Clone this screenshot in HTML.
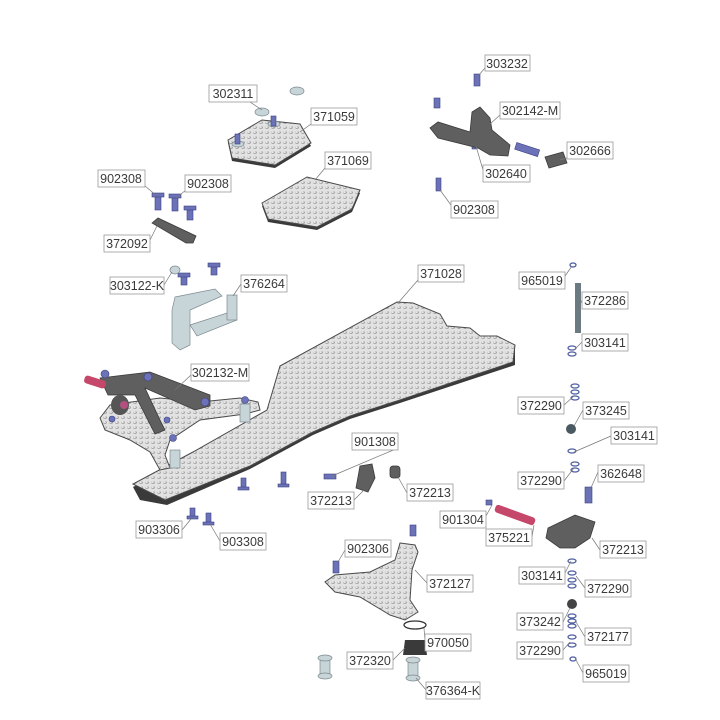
<!DOCTYPE html>
<html><head><meta charset="utf-8"><style>
html,body{margin:0;padding:0;background:#fff;}
svg{display:block}
.l rect{fill:#fff;stroke:#9a9a9a;stroke-width:0.8}
.l text{font-family:"Liberation Sans",sans-serif;font-size:12.5px;fill:#3a3a3a;text-anchor:middle}
.ld{stroke:#777;stroke-width:0.7;fill:none}
.cf{fill:url(#cb);stroke:#4a4a4a;stroke-width:1}
.sc{fill:#6c72b8;stroke:#3c4182;stroke-width:0.6}
.dk{fill:#5f5f5f;stroke:#3a3a3a;stroke-width:0.8}
.al{fill:#c7d4d8;stroke:#7d8a90;stroke-width:0.7}
</style></head><body>
<svg width="720" height="720" viewBox="0 0 720 720" xmlns="http://www.w3.org/2000/svg">
<defs>
<pattern id="cb" width="6" height="5" patternUnits="userSpaceOnUse">
<rect width="6" height="5" fill="#e2e2e2"/>
<ellipse cx="3" cy="2.5" rx="1.9" ry="1.4" fill="#9e9e9e"/>
<ellipse cx="2.6" cy="2.1" rx="1.2" ry="0.8" fill="#f6f6f6"/>
</pattern>
</defs>

<!-- main chassis 371028 -->
<polygon points="133,487 140,500 167,505 250,469 313,435 350,419 400,403 515,365 515,348 505,344 497,338 480,338 470,332 447,330 440,318 413,306 397,305 280,370 267,414 193,455" fill="#3a3a3a"/>
<polygon class="cf" points="133,484 165,500 250,466 313,432 350,416 400,400 513,362 515,345 497,336 480,336 470,328 447,326 440,314 413,303 397,302 280,366 267,410 193,452"/>
<!-- front sub-plate -->
<polygon class="cf" points="100,418 110,405 160,398 200,402 240,398 258,402 260,410 245,414 200,420 170,440 165,455 170,468 160,470 150,452 130,440 105,430"/>
<rect class="al" x="170" y="450" width="10" height="18"/>
<rect class="al" x="240" y="404" width="10" height="18"/>
<!-- steering arm -->
<path class="dk" d="M100,378 L150,372 L210,395 L210,406 L195,410 L145,388 L160,420 L165,430 L155,434 L135,395 L108,395 Z"/>
<rect x="84" y="378" width="22" height="8" rx="3" fill="#c5476a" transform="rotate(18 95 382)"/>
<ellipse cx="120" cy="405" rx="9" ry="10" fill="#555"/>
<circle cx="124" cy="405" r="4" fill="#b45080"/>
<circle class="sc" cx="105" cy="374" r="4"/><circle class="sc" cx="148" cy="377" r="4"/>
<circle class="sc" cx="205" cy="402" r="4"/><circle class="sc" cx="245" cy="400" r="3.5"/>
<circle class="sc" cx="173" cy="438" r="3.5"/><circle class="sc" cx="167" cy="420" r="3"/>
<circle class="sc" cx="112" cy="419" r="3"/>

<!-- top plates -->
<polygon points="228,143 262,123 300,127 311,146 275,168 232,161" fill="#3a3a3a"/>
<polygon class="cf" points="228,140 262,120 300,124 311,143 275,165 232,158"/>
<polygon points="262,206 307,180 360,193 352,212 317,230 268,222" fill="#3a3a3a"/>
<polygon class="cf" points="262,203 307,177 360,190 352,209 317,227 268,219"/>
<ellipse class="al" cx="262" cy="112" rx="7" ry="4"/><ellipse class="al" cx="297" cy="91" rx="7" ry="4"/>
<ellipse class="al" cx="238" cy="144" rx="6" ry="3"/><ellipse class="al" cx="274" cy="124" rx="6" ry="3"/>
<rect class="sc" x="235" y="134" width="5" height="10"/><rect class="sc" x="271" y="116" width="5" height="10"/>
<polygon class="dk" points="152,223 158,218 196,236 193,243 186,243" fill="#888"/>
<g class="sc"><rect x="155" y="195" width="6" height="15"/><rect x="152" y="193" width="12" height="4"/>
<rect x="172" y="196" width="6" height="15"/><rect x="169" y="194" width="12" height="4"/>
<rect x="187" y="208" width="6" height="12"/><rect x="184" y="206" width="12" height="4"/>
<rect x="181" y="275" width="6" height="10"/><rect x="178" y="273" width="12" height="4"/>
<rect x="211" y="265" width="6" height="10"/><rect x="208" y="263" width="12" height="4"/>
<rect x="434" y="98" width="6" height="10"/><rect x="474" y="74" width="6" height="12"/>
<rect x="472" y="138" width="5" height="11"/><rect x="436" y="178" width="5" height="13"/>
<rect x="241" y="478" width="5" height="10"/><rect x="238" y="487" width="11" height="3"/>
<rect x="281" y="472" width="5" height="13"/><rect x="278" y="484" width="11" height="3"/>
<rect x="190" y="508" width="5" height="9"/><rect x="187" y="516" width="11" height="3"/>
<rect x="206" y="513" width="5" height="11"/><rect x="203" y="522" width="11" height="3"/>
<rect x="324" y="474" width="12" height="5"/>
<rect x="410" y="525" width="6" height="11"/><rect x="333" y="561" width="6" height="12"/>
<rect x="585" y="487" width="7" height="16"/><rect x="486" y="500" width="6" height="5"/>
</g>
<!-- 376264 bracket -->
<polygon class="al" points="175,297 215,289 222,296 190,310 190,345 180,350 172,343 172,310"/>
<polygon class="al" points="190,325 230,312 237,320 197,336"/>
<rect class="al" x="227" y="295" width="10" height="25"/>
<ellipse class="al" cx="175" cy="270" rx="5" ry="4"/>
<!-- 302142-M -->
<path class="dk" d="M430,128 L438,122 L470,132 L472,112 L480,107 L490,118 L492,130 L510,145 L508,156 L490,155 L478,148 L438,138 Z"/>
<rect class="sc" x="515" y="146" width="24" height="7" transform="rotate(18 527 150)"/>
<polygon class="dk" points="545,157 563,152 567,163 549,168"/>
<rect x="575" y="283" width="6" height="50" fill="#6a7a80"/>
<g fill="none" stroke="#4f5fa0" stroke-width="1.3">
<ellipse cx="573" cy="265" rx="3" ry="2"/>
<ellipse cx="572" cy="348" rx="4" ry="2"/><ellipse cx="572" cy="354" rx="4" ry="2"/>
<ellipse cx="575" cy="386" rx="4" ry="2"/><ellipse cx="575" cy="392" rx="4" ry="2"/><ellipse cx="575" cy="398" rx="4" ry="2"/>
<ellipse cx="572" cy="451" rx="4" ry="2"/><ellipse cx="575" cy="464" rx="4" ry="2"/><ellipse cx="575" cy="470" rx="4" ry="2"/>
<ellipse cx="572" cy="561" rx="4" ry="2"/><ellipse cx="572" cy="573" rx="4" ry="2"/><ellipse cx="572" cy="580" rx="4" ry="2"/><ellipse cx="572" cy="586" rx="4" ry="2"/>
<ellipse cx="572" cy="616" rx="4" ry="2"/><ellipse cx="572" cy="621" rx="4" ry="2"/><ellipse cx="572" cy="626" rx="4" ry="2"/>
<ellipse cx="572" cy="637" rx="4" ry="2"/><ellipse cx="572" cy="645" rx="4" ry="2"/>
<ellipse cx="573" cy="659" rx="3" ry="2"/>
<ellipse cx="415" cy="625" rx="11" ry="4" stroke="#333"/>
</g>
<circle cx="571" cy="429" r="5" fill="#4a5a60"/><circle cx="572" cy="604" r="5" fill="#444"/>
<polygon class="dk" points="360,466 372,464 375,478 368,492 356,488"/>
<rect class="dk" x="390" y="466" width="10" height="12" rx="3"/>
<path class="dk" d="M548,528 L575,515 L595,522 L590,538 L575,548 L560,548 L546,538 Z"/>
<rect x="494" y="511" width="42" height="8" rx="3" fill="#c5476a" transform="rotate(20 515 515)"/>
<polygon class="cf" points="400,543 415,545 418,552 412,570 410,600 418,612 405,620 390,615 360,597 335,592 325,582 335,575 370,572 395,560 398,550"/>
<path d="M405,640 L425,640 L427,655 L403,655 Z" fill="#3a3a3a"/>
<rect class="al" x="320" y="658" width="10" height="18"/><ellipse class="al" cx="325" cy="658" rx="7" ry="3"/><ellipse class="al" cx="325" cy="676" rx="7" ry="3"/>
<rect class="al" x="408" y="660" width="10" height="18"/><ellipse class="al" cx="413" cy="660" rx="7" ry="3"/><ellipse class="al" cx="413" cy="678" rx="7" ry="3"/>

<g class="ld">
<path d="M250,102 L262,110"/><path d="M311,124 L300,132"/><path d="M485,68 L478,76"/>
<path d="M500,115 L490,124"/><path d="M567,158 L560,160"/><path d="M483,170 L476,146"/>
<path d="M451,205 L440,190"/><path d="M325,168 L315,180"/><path d="M145,186 L157,196"/>
<path d="M186,190 L176,198"/><path d="M150,240 L157,226"/><path d="M164,285 L172,272"/>
<path d="M241,284 L233,296"/><path d="M418,280 L398,303"/><path d="M565,276 L572,266"/>
<path d="M582,300 L578,310"/><path d="M582,342 L574,350"/><path d="M191,375 L175,390"/>
<path d="M564,405 L574,396"/><path d="M583,410 L574,426"/><path d="M611,436 L574,452"/>
<path d="M398,448 L332,476"/><path d="M564,481 L574,468"/><path d="M598,472 L590,490"/>
<path d="M354,500 L364,490"/><path d="M407,493 L398,477"/><path d="M486,516 L492,505"/>
<path d="M532,537 L534,525"/><path d="M182,530 L191,519"/><path d="M220,541 L210,524"/>
<path d="M600,550 L592,538"/><path d="M345,550 L338,562"/><path d="M427,583 L415,570"/>
<path d="M565,573 L571,561"/><path d="M585,588 L576,576"/><path d="M563,622 L570,608"/>
<path d="M585,637 L576,622"/><path d="M425,641 L424,628"/><path d="M563,650 L570,642"/>
<path d="M393,660 L405,648"/><path d="M583,673 L576,660"/><path d="M426,690 L416,678"/>
</g>

<g class="l">
<rect x="209" y="85" width="48" height="17"/><text x="233" y="98">302311</text>
<rect x="311" y="108" width="46" height="17"/><text x="334" y="121">371059</text>
<rect x="485" y="55" width="45" height="16"/><text x="507" y="68">303232</text>
<rect x="500" y="102" width="60" height="17"/><text x="530" y="115">302142-M</text>
<rect x="567" y="142" width="46" height="17"/><text x="590" y="155">302666</text>
<rect x="483" y="165" width="47" height="17"/><text x="506" y="178">302640</text>
<rect x="451" y="201" width="47" height="17"/><text x="474" y="214">902308</text>
<rect x="325" y="152" width="46" height="17"/><text x="348" y="165">371069</text>
<rect x="98" y="170" width="47" height="17"/><text x="121" y="183">902308</text>
<rect x="185" y="175" width="46" height="17"/><text x="208" y="188">902308</text>
<rect x="104" y="235" width="46" height="17"/><text x="127" y="248">372092</text>
<rect x="110" y="277" width="54" height="17"/><text x="137" y="290">303122-K</text>
<rect x="241" y="275" width="46" height="17"/><text x="264" y="288">376264</text>
<rect x="418" y="265" width="46" height="17"/><text x="441" y="278">371028</text>
<rect x="519" y="272" width="46" height="17"/><text x="542" y="285">965019</text>
<rect x="582" y="292" width="46" height="17"/><text x="605" y="305">372286</text>
<rect x="582" y="334" width="46" height="17"/><text x="605" y="347">303141</text>
<rect x="191" y="364" width="58" height="17"/><text x="220" y="377">302132-M</text>
<rect x="518" y="397" width="46" height="17"/><text x="541" y="410">372290</text>
<rect x="583" y="402" width="46" height="17"/><text x="606" y="415">373245</text>
<rect x="611" y="427" width="46" height="17"/><text x="634" y="440">303141</text>
<rect x="352" y="433" width="46" height="17"/><text x="375" y="446">901308</text>
<rect x="518" y="472" width="46" height="17"/><text x="541" y="485">372290</text>
<rect x="598" y="465" width="46" height="17"/><text x="621" y="478">362648</text>
<rect x="308" y="492" width="46" height="17"/><text x="331" y="505">372213</text>
<rect x="407" y="484" width="46" height="17"/><text x="430" y="497">372213</text>
<rect x="440" y="511" width="46" height="17"/><text x="463" y="524">901304</text>
<rect x="486" y="529" width="46" height="17"/><text x="509" y="542">375221</text>
<rect x="136" y="521" width="46" height="17"/><text x="159" y="534">903306</text>
<rect x="220" y="533" width="46" height="17"/><text x="243" y="546">903308</text>
<rect x="600" y="541" width="46" height="17"/><text x="623" y="554">372213</text>
<rect x="345" y="540" width="46" height="17"/><text x="368" y="553">902306</text>
<rect x="427" y="575" width="46" height="17"/><text x="450" y="588">372127</text>
<rect x="519" y="567" width="46" height="17"/><text x="542" y="580">303141</text>
<rect x="585" y="580" width="46" height="17"/><text x="608" y="593">372290</text>
<rect x="517" y="613" width="46" height="17"/><text x="540" y="626">373242</text>
<rect x="585" y="628" width="46" height="17"/><text x="608" y="641">372177</text>
<rect x="425" y="634" width="46" height="17"/><text x="448" y="647">970050</text>
<rect x="517" y="642" width="46" height="17"/><text x="540" y="655">372290</text>
<rect x="347" y="652" width="46" height="17"/><text x="370" y="665">372320</text>
<rect x="583" y="665" width="46" height="17"/><text x="606" y="678">965019</text>
<rect x="426" y="682" width="54" height="17"/><text x="453" y="695">376364-K</text>
</g>
</svg>
</body></html>
